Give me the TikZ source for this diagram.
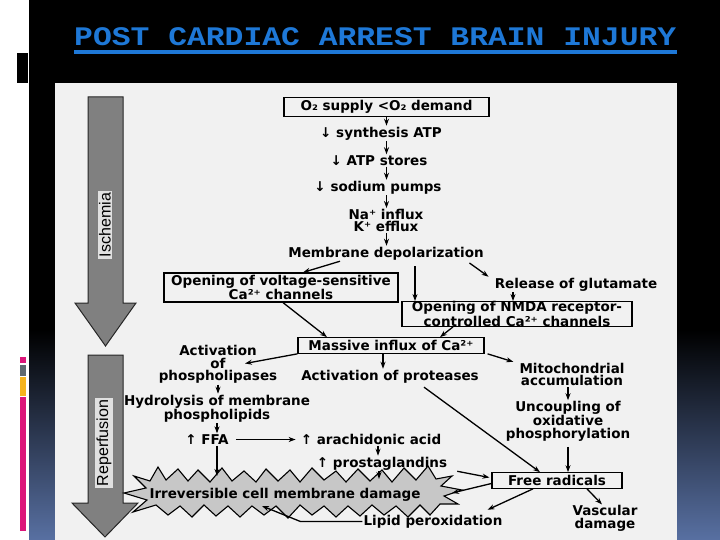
\documentclass[tikz,border=0pt]{standalone}
\usepackage{fontspec}
\newfontfamily\dv{DejaVu Sans}
\newfontfamily\lsans{Liberation Sans}
\newfontfamily\ttl[FakeStretch=1.17]{Liberation Mono}
\usetikzlibrary{arrows.meta,calc}
\definecolor{ttlblue}{RGB}{30,120,215}
\definecolor{botblue}{RGB}{88,112,162}
\definecolor{pinkbar}{RGB}{220,22,122}
\definecolor{graybar}{RGB}{95,105,112}
\definecolor{yellowbar}{RGB}{245,180,30}
\definecolor{scanbg}{RGB}{241,241,241}
\begin{document}
\begin{tikzpicture}[x=1pt,y=-1pt,
  lbl/.style={font=\dv\bfseries\fontsize{13.5}{11.5}\selectfont, align=center, inner sep=1pt},
  txt/.style={lbl, yshift=-1.5pt},
  boxn/.style={lbl, draw=black, line width=1.2pt, inner sep=0pt},
  arr/.style={-{Stealth[length=7pt,width=5pt]}, line width=1.3pt},
  bigarr/.style={fill=black!50, draw=black!85, line width=1pt},
  vlabel/.style={rotate=90, font=\lsans\fontsize{16}{16}\selectfont, fill=black!12, inner sep=1.5pt},
  jag/.style={fill=black!22, draw=black, line width=1.1pt}
  ]
\useasboundingbox (0,0) rectangle (720,540);
% background
\fill[white] (0,0) rectangle (720,540);
\fill[black] (29,0) rectangle (720,331);
\shade[top color=black, bottom color=botblue] (29,330) rectangle (720,540);
\fill[black] (17,53) rectangle (28,83);
\fill[pinkbar] (20,357) rectangle (26,363);
\fill[graybar] (20,365) rectangle (26,376);
\fill[yellowbar] (20,377) rectangle (26,396);
\fill[pinkbar] (20,397) rectangle (26,531);
% title
\node[font=\ttl\bfseries\fontsize{26.8}{30}\selectfont, text=ttlblue, anchor=base west, inner sep=0pt] (title) at (74,46) {POST CARDIAC ARREST BRAIN INJURY};
\draw[ttlblue, line width=3.5pt] ([yshift=-6pt]title.base west) -- ([yshift=-6pt]title.base east);
% scanned figure area
\fill[scanbg] (55,83) rectangle (677,540);
% big phase arrows
\draw[bigarr] (88,97) -- (123,97) -- (123,303) -- (136,303) -- (105.5,346) -- (75,303) -- (88,303) -- cycle;
\draw[bigarr] (88,355) -- (123,355) -- (123,503) -- (138,503) -- (105,537) -- (72,503) -- (88,503) -- cycle;
\node[vlabel] (isch) at (105,225) {Ischemia};
\node[vlabel] (rep) at (104,443) {Reperfusion};
% jagged damage shape
\draw[jag] (150,481) -- (158,467) -- (166,480) -- (178,469) -- (188,481) -- (198,470) -- (210,482) -- (222,468) -- (232,481) -- (244,471) -- (256,482) -- (266,469) -- (278,481) -- (290,470) -- (300,482) -- (312,468) -- (324,480) -- (336,471) -- (346,482) -- (358,469) -- (370,481) -- (382,470) -- (392,482) -- (404,468) -- (416,480) -- (428,466) -- (436,479)
  -- (452,476) -- (441,486) -- (462,490) -- (444,496) -- (458,504) -- (440,504)
  -- (430,515) -- (420,505) -- (408,517) -- (396,506) -- (384,515) -- (372,505) -- (360,516) -- (348,506) -- (336,517) -- (324,506) -- (312,515) -- (300,505) -- (288,518) -- (276,506) -- (264,515) -- (252,506) -- (240,517) -- (228,506) -- (216,516) -- (204,505) -- (192,517) -- (180,506) -- (168,515) -- (156,505)
  -- (133,512) -- (147,500) -- (124,493) -- (146,488) -- (134,476) -- cycle;
\coordinate (jA) at (217,476);
\coordinate (jB) at (379,479);
\coordinate (jC) at (452,493);
\coordinate (jD) at (262,506);
% nodes
\node[boxn, minimum width=205pt, minimum height=19pt] (n1) at (386.5,107) {O₂ supply <O₂ demand};
\node[txt] (n2) at (381,132) {↓ synthesis ATP};
\node[txt] (n3) at (379,159) {↓ ATP stores};
\node[txt] (n4) at (378,186) {↓ sodium pumps};
\node[txt, font=\dv\bfseries\fontsize{13.5}{12}\selectfont] (n5) at (386,219) {Na⁺ influx\\K⁺ efflux};
\node[txt] (n6) at (386,252) {Membrane depolarization};
\node[boxn, minimum width=234pt, minimum height=29pt] (n7) at (281,287.5) {Opening of voltage-sensitive\\Ca²⁺ channels};
\node[txt] (n8) at (576,283) {Release of glutamate};
\node[boxn, minimum width=230pt, minimum height=24pt] (n9) at (517,314) {Opening of NMDA receptor-\\controlled Ca²⁺ channels};
\node[boxn, minimum width=186pt, minimum height=15.5pt] (n10) at (391,345.5) {Massive influx of Ca²⁺};
\node[txt, font=\dv\bfseries\fontsize{13.5}{12.5}\selectfont] (n11) at (218,363) {Activation\\of\\phospholipases};
\node[txt] (n12) at (390,375) {Activation of proteases};
\node[txt, font=\dv\bfseries\fontsize{13.5}{12.5}\selectfont] (n13) at (572,373) {Mitochondrial\\accumulation};
\node[txt, font=\dv\bfseries\fontsize{13.5}{13}\selectfont] (n14) at (217,407) {Hydrolysis of membrane\\phospholipids};
\node[txt] (n15) at (207,438) {↑ FFA};
\node[txt] (n16) at (371,438) {↑ arachidonic acid};
\node[txt] (n17) at (382,462) {↑ prostaglandins};
\node[txt, font=\dv\bfseries\fontsize{13.5}{12.8}\selectfont] (n18) at (568,420) {Uncoupling of\\oxidative\\phosphorylation};
\node[boxn, minimum width=130pt, minimum height=15.5pt] (n19) at (557,480.5) {Free radicals};
\node[txt] (n20) at (285,493) {Irreversible cell membrane damage};
\node[txt] (n21) at (433,520) {Lipid peroxidation};
\node[txt, font=\dv\bfseries\fontsize{13.5}{12.5}\selectfont] (n22) at (605,517) {Vascular\\damage};
% connectors
\draw[arr] (n1.south) -- (n1.south |- n2.north);
\draw[arr] (n1.south |- n2.south) -- (n1.south |- n3.north);
\draw[arr] (n1.south |- n3.south) -- (n1.south |- n4.north);
\draw[arr] (n1.south |- n4.south) -- (n1.south |- n5.north);
\draw[arr] (n1.south |- n5.south) -- (n1.south |- n6.north);
\draw[arr] ([xshift=-46pt]n6.south) -- ([xshift=22pt]n7.north);
\draw[arr, shorten <=5pt] ([xshift=29pt]n6.south) -- ([xshift=29pt]n6.south |- n9.north);
\draw[arr, shorten <=3pt] ([xshift=81pt]n6.south) -- ([xshift=-5pt]n8.north west);
\draw[arr] ([xshift=-63pt]n8.south) -- ([xshift=-63pt]n8.south |- n9.north);
\draw[arr] ([xshift=2pt]n7.south) -- ([xshift=-64pt]n10.north);
\draw[arr] ([xshift=-64pt]n9.south) -- ([xshift=49pt]n10.north);
\draw[arr] (n10.south west) -- ([xshift=27pt,yshift=1pt]n11.center);
\draw[arr] ([xshift=-8pt]n10.south) -- ([xshift=-8pt]n10.south |- n12.north);
\draw[arr] ([xshift=3pt]n10.south east) -- ([xshift=-5pt]n13.north west);
\draw[arr] (n11.south) -- (n11.south |- n14.north);
\draw[arr] (n14.south) -- (n14.south |- n15.north);
\draw[arr, shorten <=6pt, shorten >=4pt] (n15.east) -- (n16.west);
\draw[arr] ([xshift=10pt]n15.south) -- (jA);
\draw[arr] ([xshift=7pt]n16.south) -- ([xshift=7pt]n16.south |- n17.north);
\draw[arr] ([xshift=-3pt]n17.south) -- (jB);
\draw[arr] ([xshift=9pt]n17.south east) -- ([xshift=-2pt,yshift=3pt]n19.west);
\draw[arr, shorten <=5pt] ([xshift=30pt]n12.south) -- ([xshift=-17pt]n19.north);
\draw[arr] ([xshift=-4pt]n13.south) -- ([xshift=-4pt]n13.south |- n18.north);
\draw[arr, shorten <=4pt] (n18.south) -- (n18.south |- n19.north);
\draw[arr] ([yshift=-3pt]n19.west) -- (jC);
\draw[arr] ([xshift=-24pt]n19.south) -- ([xshift=-16pt,yshift=4pt]n21.north east);
\draw[arr] ([xshift=30pt]n19.south) -- ([xshift=-3pt]n22.north);
\draw[arr] (n21.west) -- ++(-62,0) -- (jD);
\end{tikzpicture}
\end{document}
